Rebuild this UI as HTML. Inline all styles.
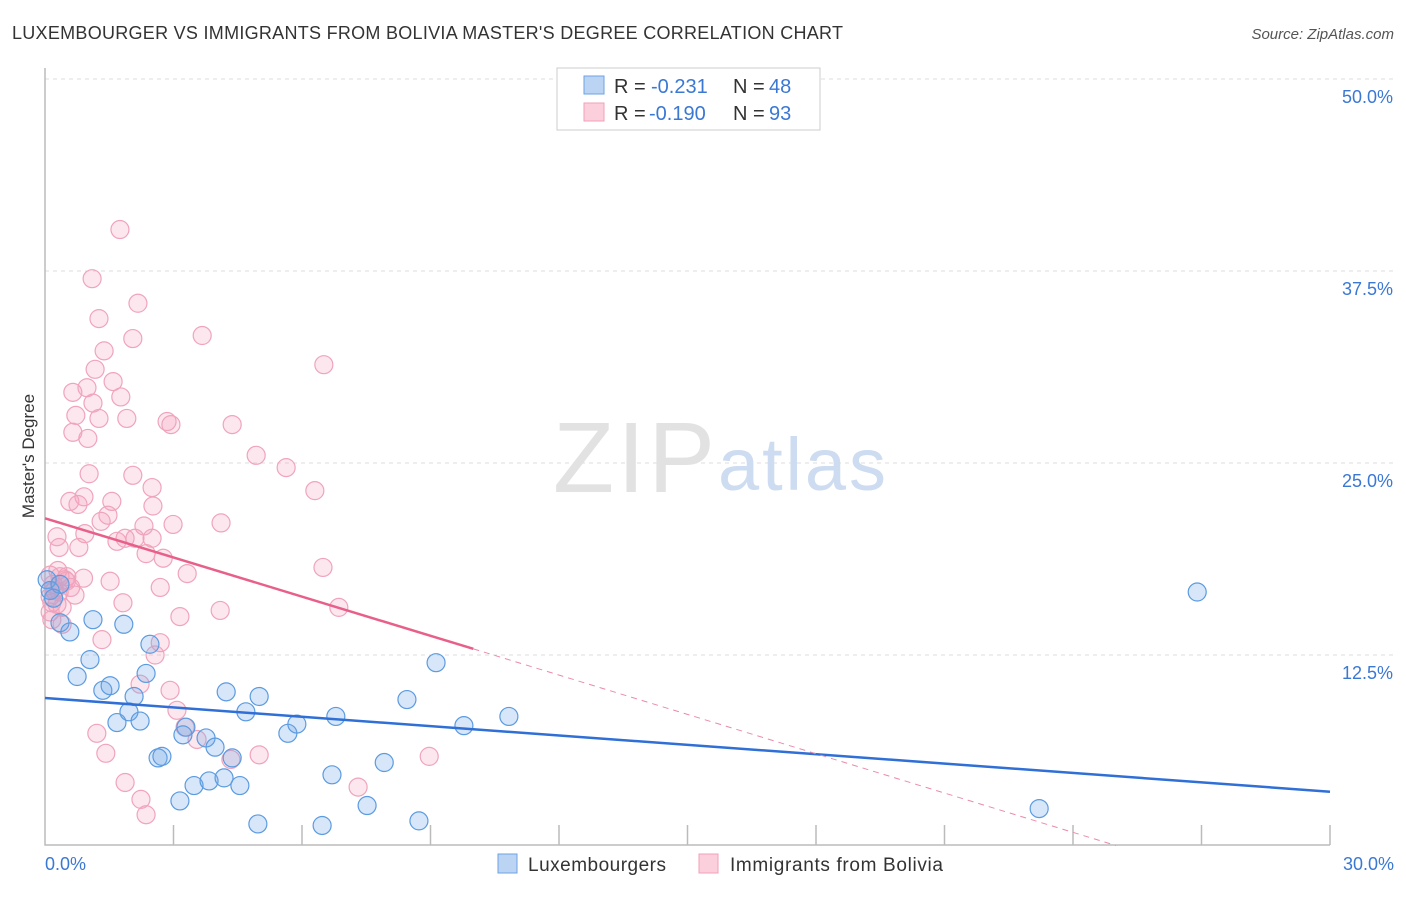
<!DOCTYPE html>
<html><head><meta charset="utf-8"><style>
body{margin:0;background:#fff;font-family:"Liberation Sans",sans-serif;}
svg text{font-family:"Liberation Sans",sans-serif;}
</style></head><body>
<svg id="chart" width="1406" height="892">
<text x="12" y="39" font-size="18" fill="#333" textLength="831">LUXEMBOURGER VS IMMIGRANTS FROM BOLIVIA MASTER'S DEGREE CORRELATION CHART</text>
<text x="1394" y="39" font-size="15" fill="#555" font-style="italic" text-anchor="end">Source: ZipAtlas.com</text>
<text x="34" y="456" font-size="17" fill="#333" text-anchor="middle" transform="rotate(-90 34 456)">Master's Degree</text>
<g id="grid"></g>
<text x="553" y="492" font-size="100" fill="#e2e2e2" font-family="Liberation Serif" textLength="162">ZIP</text>
<text x="718" y="490" font-size="74" fill="#cddcf0" textLength="168">atlas</text>
<g id="marks"></g>
<g id="lines"></g>
<g>
<rect x="557" y="68" width="263" height="62" fill="#fff" stroke="#ccc"/>
<rect x="584" y="76" width="20" height="18" fill="#bcd4f4" stroke="#6ea1e4"/>
<text y="93" font-size="20" fill="#333"><tspan x="614">R =</tspan><tspan x="651" fill="#3a78d4">-0.231</tspan><tspan x="733">N =</tspan><tspan x="769" fill="#3a78d4">48</tspan></text>
<rect x="584" y="103" width="20" height="18" fill="#fbd0dc" stroke="#f0a0b8"/>
<text y="120" font-size="20" fill="#333"><tspan x="614">R =</tspan><tspan x="649" fill="#3a78d4">-0.190</tspan><tspan x="733">N =</tspan><tspan x="769" fill="#3a78d4">93</tspan></text>
</g>
<g>
<rect x="498" y="854" width="19" height="19" fill="#bcd4f4" stroke="#6ea1e4"/>
<text x="528" y="871" font-size="19" fill="#333" textLength="138">Luxembourgers</text>
<rect x="699" y="854" width="19" height="19" fill="#fbd0dc" stroke="#f0a0b8"/>
<text x="730" y="871" font-size="19" fill="#333" textLength="213">Immigrants from Bolivia</text>
</g>
<text x="45" y="870" font-size="18" fill="#3a78d4">0.0%</text>
<text x="1394" y="870" font-size="18" fill="#3a78d4" text-anchor="end">30.0%</text>
</svg>
<script>
const yTicks=[12.5,25,37.5,50];
const yTickLabels=["12.5%","25.0%","37.5%","50.0%"];
const xTicks=[3,6,9,12,15,18,21,24,27,30];
const luxX=[0.05,0.12,0.35,0.58,1.12,0.75,1.05,1.35,1.52,1.68,1.84,1.96,2.08,2.22,2.45,2.64,2.73,3.15,3.48,3.76,3.83,3.97,4.23,4.18,4.37,4.55,4.69,4.97,5.0,5.67,5.88,6.47,6.70,6.79,7.52,7.92,8.45,8.73,9.13,9.78,10.83,23.21,26.9,3.29,2.36,3.22,0.35,0.2];
const luxY=[17.4,16.7,14.6,14.0,14.8,11.1,12.2,10.2,10.5,8.1,14.5,8.8,9.8,8.2,13.2,5.8,5.9,3.0,4.0,7.1,4.3,6.5,10.1,4.5,5.8,4.0,8.8,1.5,9.8,7.4,8.0,1.4,4.7,8.5,2.7,5.5,9.6,1.7,12.0,7.9,8.5,2.5,16.6,7.8,11.3,7.3,17.1,16.2];
const bolX=[1.75,1.10,2.17,1.26,2.05,3.67,1.38,6.51,1.17,1.59,0.65,0.98,1.77,1.12,0.72,1.26,1.91,2.85,2.94,4.37,0.65,1.0,4.93,5.63,1.03,2.05,2.50,6.30,0.58,0.91,1.56,0.77,2.52,1.47,1.31,4.11,2.99,2.31,0.93,0.28,1.87,1.68,2.10,2.5,0.33,0.79,2.36,2.76,6.49,3.32,0.12,0.35,0.51,1.52,2.69,0.21,0.33,0.16,0.12,1.82,4.09,6.86,3.15,0.40,1.33,2.69,2.57,2.92,2.22,3.08,1.21,3.27,3.55,1.42,5.0,4.34,8.97,1.87,2.24,2.36,7.31,0.23,0.28,0.47,0.16,0.12,0.70,0.30,0.40,0.19,0.5,0.9,0.6];
const bolY=[40.2,37.0,35.4,34.4,33.1,33.3,32.3,31.4,31.1,30.3,29.6,29.9,29.3,28.9,28.1,27.9,27.9,27.7,27.5,27.5,27.0,26.6,25.5,24.7,24.3,24.2,23.4,23.2,22.5,22.8,22.5,22.3,22.2,21.6,21.2,21.1,21.0,20.9,20.4,20.2,20.1,19.9,20.1,20.1,19.5,19.5,19.1,18.8,18.2,17.8,17.7,17.6,17.6,17.3,16.9,16.7,16.6,15.9,15.3,15.9,15.4,15.6,15.0,14.5,13.5,13.3,12.5,10.2,10.6,8.9,7.4,7.8,7.0,6.1,6.0,5.7,5.9,4.2,3.1,2.1,3.9,16.7,15.8,17.4,14.8,16.3,16.4,18.0,15.6,17.1,17.3,17.5,16.9];
const luxTrend=[[0,9.7],[30,3.6]];
const bolTrendSolid=[[0,21.4],[10,12.9]];
const bolTrendDash=[[10,12.9],[25,0.1]];
const X0=45,X1=1330,Y0=847,YPER=192/12.5;
const sx=v=>X0+(v/30)*(X1-X0);
const sy=v=>Y0-v*YPER;
const NS="http://www.w3.org/2000/svg";
function mk(tag,attrs,parent){const e=document.createElementNS(NS,tag);for(const k in attrs)e.setAttribute(k,attrs[k]);parent.appendChild(e);return e;}
const grid=document.getElementById('grid'),marks=document.getElementById('marks'),lines=document.getElementById('lines');
yTicks.forEach((t,i)=>{
  const l=mk('line',{x1:X0,x2:1394,y1:sy(t),y2:sy(t),stroke:'#ddd','stroke-dasharray':'4,4'},grid);
  
  
  const tx=mk('text',{x:1393,y:sy(t)+24,'font-size':18,fill:'#3a78d4','text-anchor':'end'},grid);
  tx.textContent=yTickLabels[i];
  
  
});
const ax=mk('path',{d:`M${X0} 68 V845 H${X1}`,fill:'none',stroke:'#bbb','stroke-width':1.5},grid);


xTicks.forEach(t=>{
  const l=mk('line',{x1:sx(t),x2:sx(t),y1:825,y2:845,stroke:'#bbb','stroke-width':1.5},grid);
  
  
});
bolX.forEach((x,i)=>{
  const c=mk('circle',{cx:sx(x),cy:sy(bolY[i]),r:9,fill:'rgba(244,160,188,0.25)',stroke:'#f0a4bc','stroke-width':1.2},marks);
  
  
});
luxX.forEach((x,i)=>{
  const c=mk('circle',{cx:sx(x),cy:sy(luxY[i]),r:9,fill:'rgba(110,165,230,0.28)',stroke:'#5b9be0','stroke-width':1.2},marks);
  
  
});
function seg(p,attrs,name){const l=mk('line',Object.assign({x1:sx(p[0][0]),y1:sy(p[0][1]),x2:sx(p[1][0]),y2:sy(p[1][1])},attrs),lines);
  
  }
seg(luxTrend,{stroke:'#2f6fd6','stroke-width':2.5},'trend-luxembourgers');
seg(bolTrendSolid,{stroke:'#e8608a','stroke-width':2.5},'trend-bolivia');
seg(bolTrendDash,{stroke:'#ea8aa8','stroke-width':1,'stroke-dasharray':'6,5'},'trend-bolivia-extrapolated');
</script>
</body></html>
